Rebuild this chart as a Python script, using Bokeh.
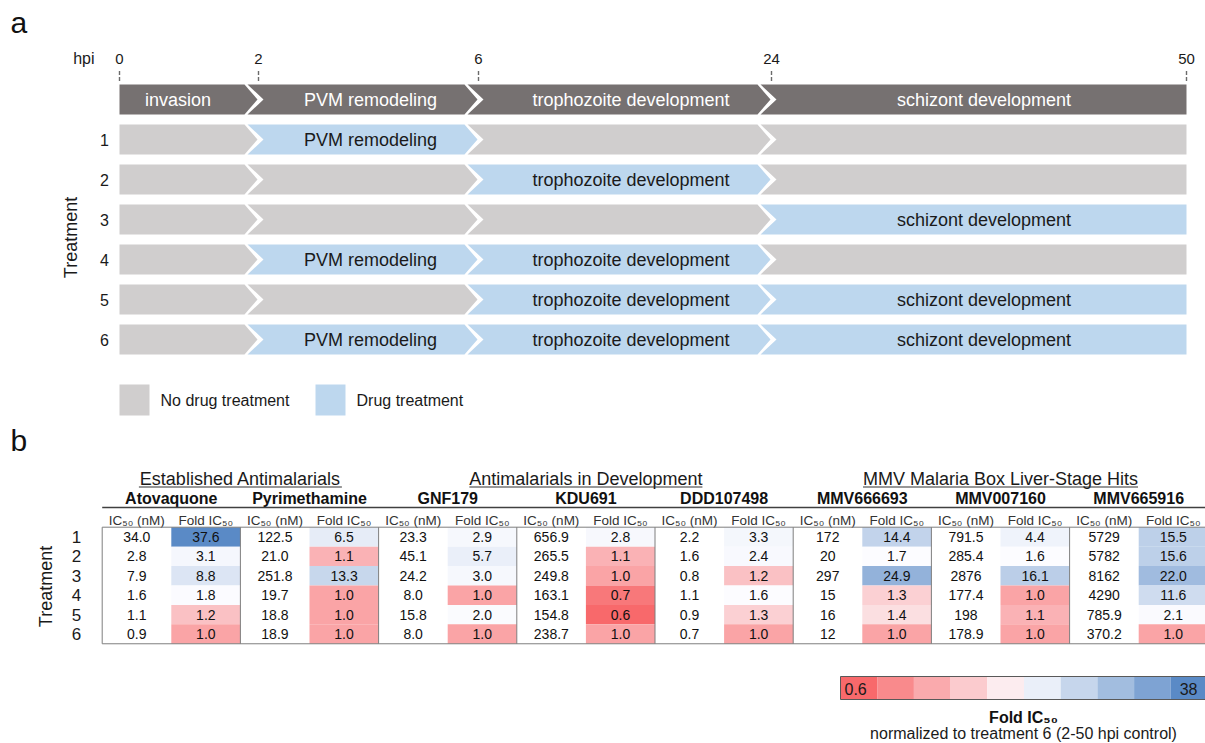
import numpy as np
from bokeh.plotting import figure
from bokeh.models import Range1d
from bokeh.core.properties import value
from bokeh.embed import file_html
from bokeh.resources import INLINE

# ---------------- data ----------------
hpi_ticks = [0, 2, 6, 24, 50]
stages = ["invasion", "PVM remodeling", "trophozoite development", "schizont development"]
treatments = ["1", "2", "3", "4", "5", "6"]
drug_on = [
    [0, 1, 0, 0],
    [0, 0, 1, 0],
    [0, 0, 0, 1],
    [0, 1, 1, 0],
    [0, 0, 1, 1],
    [0, 1, 1, 1],
]
legend_labels = ["No drug treatment", "Drug treatment"]

groups = ["Established Antimalarials", "Antimalarials in Development",
          "MMV Malaria Box Liver-Stage Hits"]
group_sizes = [2, 3, 3]
drugs = ["Atovaquone", "Pyrimethamine", "GNF179", "KDU691", "DDD107498",
         "MMV666693", "MMV007160", "MMV665916"]
sub_headers = ["IC\u2085\u2080 (nM)", "Fold IC\u2085\u2080"]

ic50_atovaquone = ["34.0", "2.8", "7.9", "1.6", "1.1", "0.9"]
fold_atovaquone = [37.6, 3.1, 8.8, 1.8, 1.2, 1.0]
ic50_pyrimethamine = ["122.5", "21.0", "251.8", "19.7", "18.8", "18.9"]
fold_pyrimethamine = [6.5, 1.1, 13.3, 1.0, 1.0, 1.0]
ic50_gnf179 = ["23.3", "45.1", "24.2", "8.0", "15.8", "8.0"]
fold_gnf179 = [2.9, 5.7, 3.0, 1.0, 2.0, 1.0]
ic50_kdu691 = ["656.9", "265.5", "249.8", "163.1", "154.8", "238.7"]
fold_kdu691 = [2.8, 1.1, 1.0, 0.7, 0.6, 1.0]
ic50_ddd107498 = ["2.2", "1.6", "0.8", "1.1", "0.9", "0.7"]
fold_ddd107498 = [3.3, 2.4, 1.2, 1.6, 1.3, 1.0]
ic50_mmv666693 = ["172", "20", "297", "15", "16", "12"]
fold_mmv666693 = [14.4, 1.7, 24.9, 1.3, 1.4, 1.0]
ic50_mmv007160 = ["791.5", "285.4", "2876", "177.4", "198", "178.9"]
fold_mmv007160 = [4.4, 1.6, 16.1, 1.0, 1.1, 1.0]
ic50_mmv665916 = ["5729", "5782", "8162", "4290", "785.9", "370.2"]
fold_mmv665916 = [15.5, 15.6, 22.0, 11.6, 2.1, 1.0]

ic50_table = [ic50_atovaquone, ic50_pyrimethamine, ic50_gnf179, ic50_kdu691,
              ic50_ddd107498, ic50_mmv666693, ic50_mmv007160, ic50_mmv665916]
fold_table = [fold_atovaquone, fold_pyrimethamine, fold_gnf179, fold_kdu691,
              fold_ddd107498, fold_mmv666693, fold_mmv007160, fold_mmv665916]

colorbar_labels = ["0.6", "38"]
colorbar_bins = 10
colorbar_title = "Fold IC\u2085\u2080"
colorbar_subtitle = "normalized to treatment 6 (2-50 hpi control)"

# ---------------- style / layout ----------------
FONT = value("Liberation Sans")
DARK = "#767171"
GRAY = "#D0CECE"
BLUE = "#BDD7EE"
TXT = "#1a1a1a"
RED_RGB = np.array([248, 105, 107])
WHITE_RGB = np.array([252, 252, 255])
BLUE_RGB = np.array([90, 138, 198])

W, H = 1205, 743
HPI_X = [119, 258, 478, 771, 1186]      # schematic (non-linear) positions of hpi ticks
LABEL_DX = [-11, 2, 6, 5]
ROW_Y0, ROW_DY, HALF = 99, 40, 15
X0, CW = 101.7, 69.1                     # table geometry
Y0, RH = 526.7, 19.43


def hexcol(rgb):
    r, g, b = [int(round(c)) for c in rgb]
    return "#%02x%02x%02x" % (r, g, b)


def blend(p):
    """p in [0,1]: red -> white -> blue"""
    if p <= 0.5:
        f = p / 0.5
        return hexcol(RED_RGB + f * (WHITE_RGB - RED_RGB))
    f = (p - 0.5) / 0.5
    return hexcol(WHITE_RGB + f * (BLUE_RGB - WHITE_RGB))


all_fold = np.array(fold_table).ravel()
vmin, vmax = all_fold.min(), all_fold.max()
vmid = np.percentile(all_fold, 50)


def fold_color(v):
    if v <= vmid:
        return blend(0.5 * (v - vmin) / (vmid - vmin))
    return blend(0.5 + 0.5 * (v - vmid) / (vmax - vmid))


p = figure(width=W, height=H, x_range=Range1d(0, W), y_range=Range1d(H, 0),
           output_backend="svg", toolbar_location=None, min_border=0,
           x_axis_location=None, y_axis_location=None)
p.grid.visible = False
p.outline_line_color = None
p.background_fill_color = "white"
p.border_fill_color = "white"
p.extra_x_ranges = {"tx": Range1d((0 - X0) / CW, (W - X0) / CW)}
p.extra_y_ranges = {"ty": Range1d((H - Y0) / RH, (0 - Y0) / RH)}


def txt(x, y, t, size, align="center", color=TXT, bold=False,
        angle=0, xr="default", yr="default"):
    p.text(x=x, y=y, text=t, text_font=FONT, text_font_size=size,
           text_align=align, text_baseline="middle", text_color=color,
           text_font_style="bold" if bold else "normal", angle=angle,
           x_range_name=xr, y_range_name=yr)


# ---------------- panel a ----------------
txt([10], [22], ["a"], "30px", align="left", color="#111")
txt([94], [58], ["hpi"], "16px", align="right")
txt(HPI_X, [58] * len(HPI_X), [str(h) for h in hpi_ticks], "15px")
# short dashed tick marks (two dash pieces per tick)
tick_x = HPI_X + HPI_X
tick_y0 = [70.5] * 5 + [76.5] * 5
tick_y1 = [74.5] * 5 + [80.5] * 5
p.segment(x0=tick_x, y0=tick_y0, x1=tick_x, y1=tick_y1, line_color="#6b6b6b",
          line_width=1.4)

n_st = len(stages)


def chevron(i, yc):
    L, R = HPI_X[i], HPI_X[i + 1]
    if i == 0:
        left = [(L, yc + HALF), (L, yc - HALF)]
    else:
        left = [(L - 11, yc + HALF), (L + 5, yc), (L - 11, yc - HALF)]
    if i == n_st - 1:
        right = [(R, yc - HALF), (R, yc + HALF)]
    else:
        right = [(R - 14, yc - HALF), (R - 1, yc), (R - 14, yc + HALF)]
    pts = left + right
    return [q[0] for q in pts], [q[1] for q in pts]


xs, ys, cols = [], [], []
lab_x, lab_y, lab_t, lab_c = [], [], [], []
for i in range(n_st):
    x, y = chevron(i, ROW_Y0)
    xs.append(x); ys.append(y); cols.append(DARK)
    lab_x.append((HPI_X[i] + HPI_X[i + 1]) / 2 + LABEL_DX[i]); lab_y.append(ROW_Y0)
    lab_t.append(stages[i]); lab_c.append("white")
for k, row in enumerate(drug_on):
    yc = ROW_Y0 + ROW_DY * (k + 1)
    for i in range(n_st):
        x, y = chevron(i, yc)
        xs.append(x); ys.append(y); cols.append(BLUE if row[i] else GRAY)
        if row[i]:
            lab_x.append((HPI_X[i] + HPI_X[i + 1]) / 2 + LABEL_DX[i]); lab_y.append(yc)
            lab_t.append(stages[i]); lab_c.append(TXT)
p.patches(xs=xs, ys=ys, fill_color=cols, line_color=None)
p.text(x=lab_x, y=lab_y, text=lab_t, text_font=FONT, text_font_size="18px",
       text_align="center", text_baseline="middle", text_color=lab_c)

txt([104] * 6, [ROW_Y0 + ROW_DY * (k + 1) for k in range(6)], treatments, "16px")
txt([70], [237], ["Treatment"], "18px", angle=np.pi / 2)

# legend
p.quad(left=[119, 315], right=[149, 345], top=[384, 384], bottom=[415, 415],
       fill_color=[GRAY, BLUE], line_color=None)
txt([160, 356], [400, 400], legend_labels, "16px", align="left")

# ---------------- panel b ----------------
txt([10], [440], ["b"], "30px", align="left", color="#111")

g_start = np.cumsum([0] + group_sizes[:-1]) * 2
g_center = g_start + np.array(group_sizes)
txt(list(g_center), [478] * 3, groups, "18px", xr="tx")
UL_W = [203, 233, 275]
ul_c = X0 + g_center * CW
p.segment(x0=list(ul_c - np.array(UL_W) / 2), x1=list(ul_c + np.array(UL_W) / 2),
          y0=[486.5] * 3, y1=[486.5] * 3, line_color="#333", line_width=1.2)

nd = len(drugs)
txt([2 * d + 1 for d in range(nd)], [498] * nd, drugs, "16px",
    bold=True, color="#111", xr="tx")
p.segment(x0=[0], x1=[2 * nd], y0=[507], y1=[507], line_color="#404040",
          line_width=1.6, x_range_name="tx")
txt([c + 0.5 for c in range(2 * nd)], [520] * (2 * nd), sub_headers * nd, "13.5px",
    color="#333", xr="tx")

# cells
cl, cr, ct, cb, cc = [], [], [], [], []
tx, ty, tt = [], [], []
for d in range(nd):
    for r in range(6):
        cl.append(2 * d + 1); cr.append(2 * d + 2); ct.append(r); cb.append(r + 1)
        cc.append(fold_color(fold_table[d][r]))
        tx += [2 * d + 0.5, 2 * d + 1.5]; ty += [r + 0.5, r + 0.5]
        tt += [ic50_table[d][r], "%.1f" % fold_table[d][r]]
p.quad(left=cl, right=cr, top=ct, bottom=cb, fill_color=cc, line_color=None,
       x_range_name="tx", y_range_name="ty")
p.text(x=tx, y=ty, text=tt, text_font=FONT, text_font_size="14px", text_align="center",
       text_baseline="middle", text_color="#111", x_range_name="tx", y_range_name="ty")
p.segment(x0=[2 * d for d in range(nd + 1)], x1=[2 * d for d in range(nd + 1)],
          y0=[0] * (nd + 1), y1=[6] * (nd + 1), line_color="#7f7f7f", line_width=1,
          x_range_name="tx", y_range_name="ty")
p.segment(x0=[0, 0], x1=[2 * nd, 2 * nd], y0=[0, 6], y1=[0, 6], line_color="#7f7f7f",
          line_width=1, x_range_name="tx", y_range_name="ty")

txt([76] * 6, [r + 0.5 for r in range(6)], treatments, "17px", yr="ty")
txt([45], [586], ["Treatment"], "18px", angle=np.pi / 2)

# colour key
CB_X, CB_W, CB_T, CB_B = 840, 36.7, 676, 699
kk = np.arange(colorbar_bins)
p.quad(left=list(CB_X + kk * CB_W), right=list(CB_X + (kk + 1) * CB_W),
       top=[CB_T] * colorbar_bins, bottom=[CB_B] * colorbar_bins,
       fill_color=[blend(k / (colorbar_bins - 1)) for k in kk], line_color=None)
p.quad(left=[CB_X], right=[CB_X + colorbar_bins * CB_W], top=[CB_T], bottom=[CB_B],
       fill_color=None, line_color="#595959", line_width=1)
txt([844], [688], [colorbar_labels[0]], "16px", align="left")
txt([1197], [688], [colorbar_labels[1]], "16px", align="right")
txt([1023], [717], [colorbar_title], "16px", bold=True, color="#111")
txt([1023], [733], [colorbar_subtitle], "16px")

open("out.html", "w").write(file_html(p, INLINE))
